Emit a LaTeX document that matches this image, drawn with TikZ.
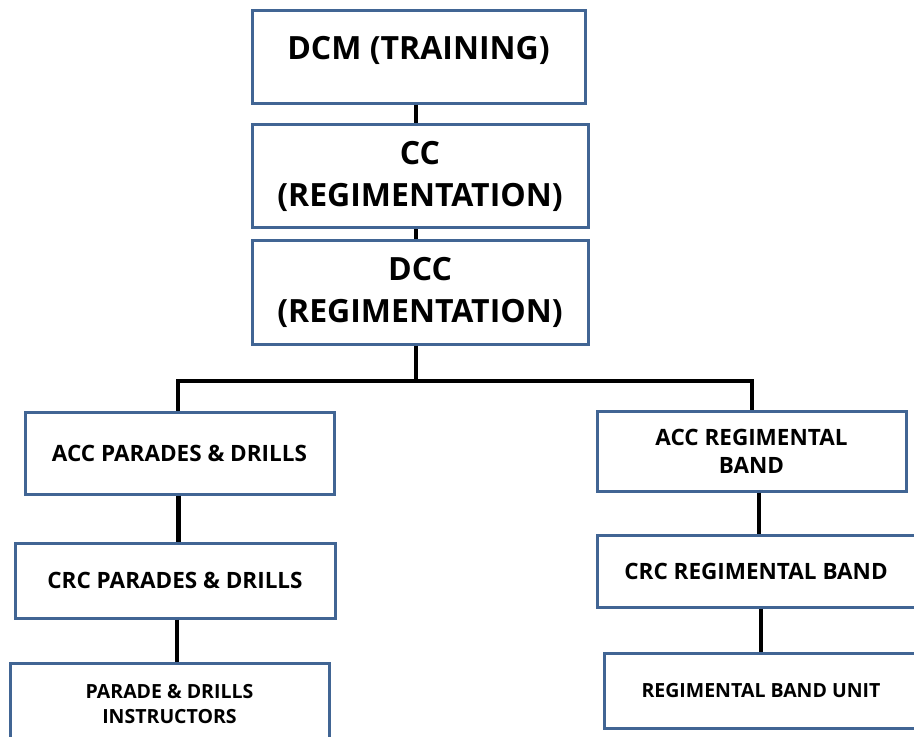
\documentclass[tikz,border=0pt]{standalone}
\usepackage{fontspec}
\setmainfont{Open Sans}
\definecolor{boxblue}{RGB}{65,101,148}
\begin{document}
\begin{tikzpicture}[x=1pt,y=-1pt,
  unit/.style={draw=boxblue,line width=3pt,fill=white,align=center,inner sep=2pt},
  bigtxt/.style={font=\fontsize{32}{42}\selectfont\bfseries},
  midtxt/.style={font=\fontsize{22.5}{28}\selectfont\bfseries},
  smalltxt/.style={font=\fontsize{19.5}{25}\selectfont\bfseries},
  link/.style={line width=3.5pt}]
\useasboundingbox[fill=white] (0,0) rectangle (914,737);
% top of the chain
\node[unit,bigtxt,minimum width=333,minimum height=93,text depth=18pt] (dcm) at (418.5,56.5) {DCM (TRAINING)};
\node[unit,bigtxt,minimum width=336,minimum height=103] (cc) at (420,176) {CC\\(REGIMENTATION)};
\node[unit,bigtxt,minimum width=336,minimum height=104] (dcc) at (420,292) {DCC\\(REGIMENTATION)};
% parades & drills
\node[unit,midtxt,minimum width=309,minimum height=82] (accpd) at (179.5,453) {ACC PARADES \& DRILLS};
\node[unit,midtxt,minimum width=320,minimum height=75] (crcpd) at (175,580.5) {CRC PARADES \& DRILLS};
\node[unit,smalltxt,minimum width=319,minimum height=82] (instr) at (169.5,704) {PARADE \& DRILLS\\INSTRUCTORS};
% regimental band
\node[unit,midtxt,minimum width=309,minimum height=80] (accband) at (751.5,451) {ACC REGIMENTAL\\BAND};
\node[unit,midtxt,minimum width=318,minimum height=72] (crcband) at (756,571) {CRC REGIMENTAL BAND};
\node[unit,smalltxt,minimum width=314,minimum height=75] (bandunit) at (761,690.5) {REGIMENTAL BAND UNIT};

\coordinate (split) at (416,381);
\draw[link] (dcm.south -| 416,0) -- (cc.north -| 416,0);
\draw[link] (cc.south -| 416,0) -- (dcc.north -| 416,0);
\draw[link] (dcc.south -| 416,0) -- (split);
\draw[link] (split) -| (accpd.north -| 178,0);
\draw[link] (split) -| (accband.north -| 752,0);
\draw[line width=5pt] (accpd.south -| 178,0) -- (crcpd.north -| 178,0);
\draw[link] (crcpd.south -| 177,0) -- (instr.north -| 177,0);
\draw[line width=4.5pt] (accband.south -| 759,0) -- (crcband.north -| 759,0);
\draw[link] (crcband.south -| 761,0) -- (bandunit.north -| 761,0);
\end{tikzpicture}
\end{document}
